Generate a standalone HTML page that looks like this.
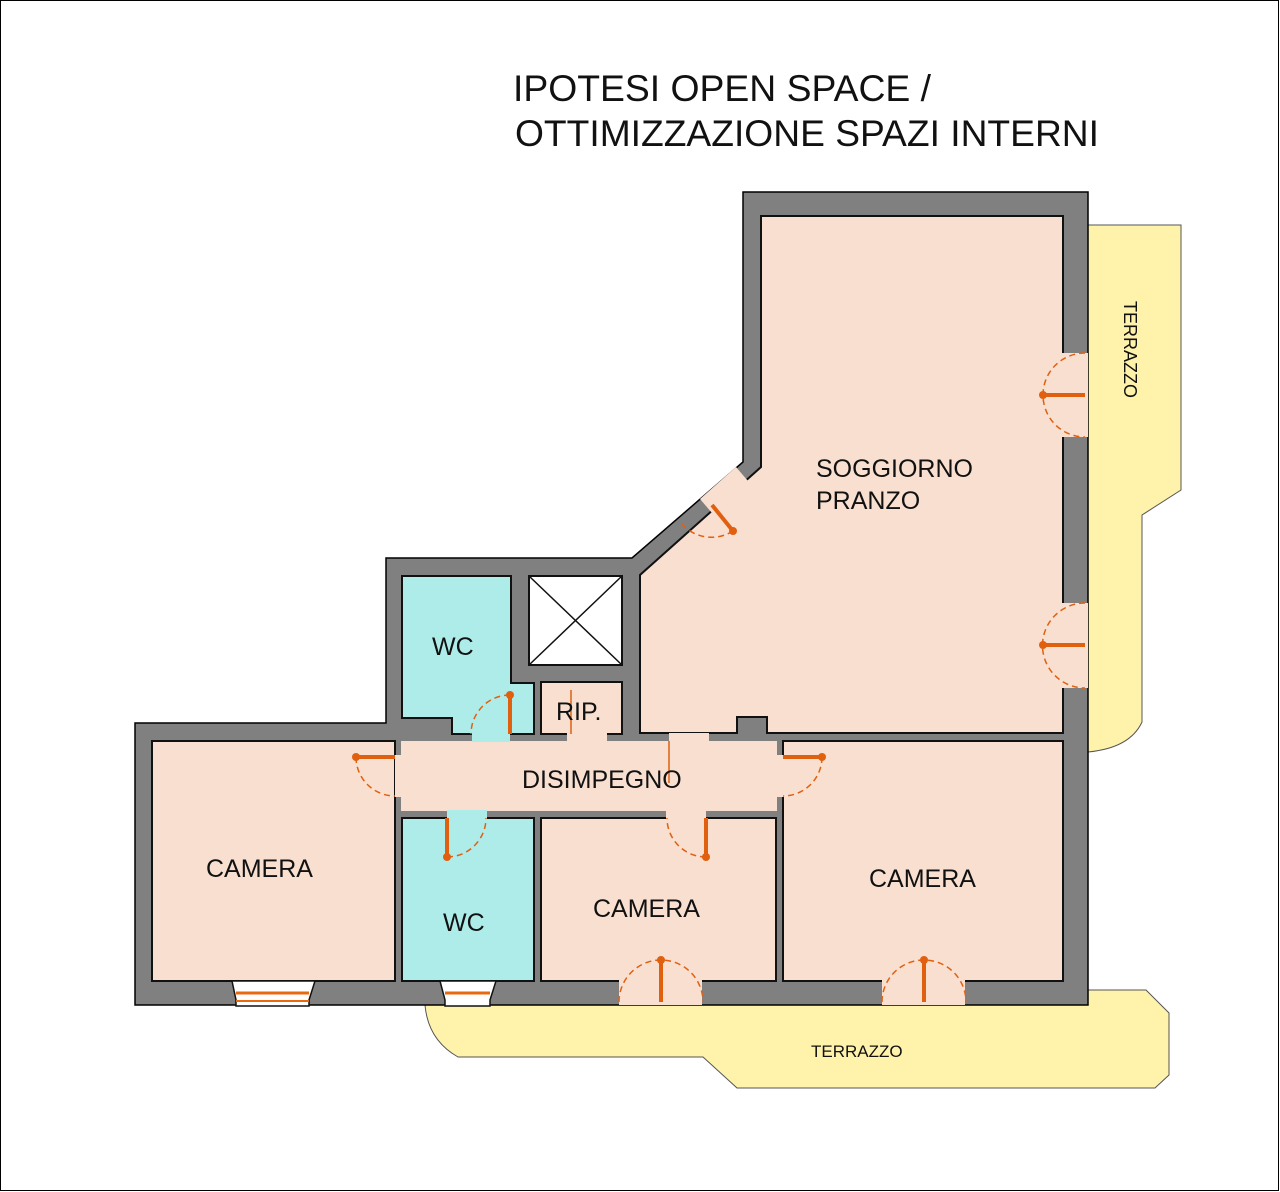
<!DOCTYPE html>
<html><head><meta charset="utf-8"><style>
html,body{margin:0;padding:0;background:#fff}
svg{display:block}
text{font-family:"Liberation Sans",Arial,sans-serif;fill:#111}
</style></head><body>
<svg width="1280" height="1192" viewBox="0 0 1280 1192" xmlns="http://www.w3.org/2000/svg">
<rect x="0.5" y="0.5" width="1278" height="1190" fill="#fff" stroke="#000" stroke-width="1"/>
<text x="513" y="101" font-size="37" textLength="418" lengthAdjust="spacingAndGlyphs">IPOTESI OPEN SPACE /</text>
<text x="515" y="146" font-size="37" textLength="584" lengthAdjust="spacingAndGlyphs">OTTIMIZZAZIONE SPAZI INTERNI</text>

<!-- terraces -->
<path d="M1088,225 L1181,225 L1181,490 L1142,515 L1142,722 Q1130,748 1088,752 Z" fill="#fff2aa" stroke="#555" stroke-width="1"/>
<path d="M425,1005 L1088,1005 L1088,990 L1146,990 L1169,1013 L1169,1075 L1155,1088 L737,1088 L703,1057 L458,1057 Q428,1040 425,1005 Z" fill="#fff2aa" stroke="#555" stroke-width="1"/>

<!-- outer wall -->
<path d="M743,192 L1088,192 L1088,1005 L135,1005 L135,723 L386,723 L386,558 L632,558 L743,462 Z" fill="#808080" stroke="#000" stroke-width="1.5"/>

<!-- rooms -->
<g stroke="#111" stroke-width="2">
<path d="M761,216 L1063,216 L1063,733 L767,733 L767,717 L737,717 L737,733 L640,733 L640,575 L761,467 Z" fill="#f8dfd0"/>
<rect x="783" y="741" width="280" height="240" fill="#f8dfd0"/>
<rect x="152" y="741" width="243" height="240" fill="#f8dfd0"/>
<rect x="541" y="818" width="235" height="163" fill="#f8dfd0"/>
<rect x="402" y="818" width="132" height="163" fill="#aeecea"/>
<path d="M402,576 L511,576 L511,683 L534,683 L534,734 L452,734 L452,718 L402,718 Z" fill="#aeecea"/>
<rect x="529" y="576" width="93" height="89" fill="#fff"/>
<rect x="541" y="682" width="81" height="52" fill="#f8dfd0"/>
</g>
<path d="M529,576 L622,665 M622,576 L529,665" stroke="#111" stroke-width="1.5"/>
<!-- disimpegno (open) -->
<rect x="401" y="741" width="376" height="70" fill="#f8dfd0"/>
<rect x="395" y="755" width="8" height="42" fill="#f8dfd0"/>
<rect x="775" y="755" width="9" height="42" fill="#f8dfd0"/>
<rect x="472" y="733" width="38" height="9" fill="#aeecea"/>
<rect x="567" y="733" width="40" height="9" fill="#f8dfd0"/>
<rect x="669" y="733" width="40" height="9" fill="#f8dfd0"/>
<rect x="447" y="810" width="40" height="9" fill="#aeecea"/>
<rect x="666" y="810" width="40" height="9" fill="#f8dfd0"/>
<!-- openings in outer walls -->
<path d="M700,499 L736,467 L760,495 L724,527 Z" fill="#f8dfd0"/>
<rect x="1062" y="353" width="26" height="84" fill="#f8dfd0"/>
<rect x="1062" y="603" width="26" height="85" fill="#f8dfd0"/>
<rect x="619" y="980" width="83" height="25" fill="#f8dfd0"/>
<rect x="882" y="980" width="83" height="25" fill="#f8dfd0"/>
<!-- windows -->
<path d="M232,981 L315,981 L309,1000 L309,1006 L236,1006 L236,1000 Z" fill="#fff" stroke="#111" stroke-width="1.5"/>
<line x1="236" y1="1001" x2="309" y2="1001" stroke="#e86a10" stroke-width="2"/>
<line x1="236" y1="993" x2="309" y2="993" stroke="#e86a10" stroke-width="3"/>
<path d="M440,981 L496,981 L490,1000 L490,1006 L445,1006 L445,1000 Z" fill="#fff" stroke="#111" stroke-width="1.5"/>
<line x1="445" y1="993" x2="490" y2="993" stroke="#e86a10" stroke-width="3"/>

<!-- doors -->
<g stroke="#e06010" fill="none">
<g stroke-width="4">
<line x1="510" y1="695" x2="510" y2="734"/>
<line x1="447" y1="818" x2="447" y2="857"/>
<line x1="706" y1="818" x2="706" y2="857"/>
<line x1="356" y1="757" x2="395" y2="757"/>
<line x1="783" y1="757" x2="822" y2="757"/>
<line x1="1043" y1="395" x2="1085" y2="395"/>
<line x1="1043" y1="645" x2="1085" y2="645"/>
<line x1="661" y1="960" x2="661" y2="1002"/>
<line x1="924" y1="960" x2="924" y2="1002"/>
<line x1="712" y1="505" x2="733" y2="531"/>
</g>
<g stroke-width="1.5" stroke-dasharray="6,4">
<path d="M510,695 A39,39 0 0 0 471,734"/>
<path d="M447,857 A39,39 0 0 0 486,818"/>
<path d="M706,857 A39,39 0 0 1 667,818"/>
<path d="M356,757 A39,39 0 0 0 395,796"/>
<path d="M822,757 A39,39 0 0 1 783,796"/>
<path d="M1085,353 A42,42 0 0 0 1085,437"/>
<path d="M1085,603 A42,42 0 0 0 1085,688"/>
<path d="M619,1002 A42,42 0 0 1 703,1002"/>
<path d="M882,1002 A42,42 0 0 1 966,1002"/>
<path d="M733,531 A40,40 0 0 1 680,522"/>
</g>
<line x1="669" y1="741" x2="669" y2="783" stroke-width="1.5"/>
<line x1="571" y1="690" x2="571" y2="734" stroke-width="1.5"/>
</g>
<g fill="#e06010">
<circle cx="510" cy="695" r="4"/><circle cx="447" cy="857" r="4"/><circle cx="706" cy="857" r="4"/>
<circle cx="356" cy="757" r="4"/><circle cx="822" cy="757" r="4"/><circle cx="1043" cy="395" r="4"/>
<circle cx="1043" cy="645" r="4"/><circle cx="661" cy="960" r="4"/><circle cx="924" cy="960" r="4"/><circle cx="733" cy="531" r="4"/>
</g>

<!-- labels -->
<text x="816" y="477" font-size="25">SOGGIORNO</text>
<text x="816" y="509" font-size="25">PRANZO</text>
<text x="432" y="655" font-size="25">WC</text>
<text x="556" y="720" font-size="25">RIP.</text>
<text x="522" y="788" font-size="25">DISIMPEGNO</text>
<text x="206" y="877" font-size="25">CAMERA</text>
<text x="443" y="931" font-size="25">WC</text>
<text x="593" y="917" font-size="25">CAMERA</text>
<text x="869" y="887" font-size="25">CAMERA</text>
<text x="811" y="1057" font-size="17">TERRAZZO</text>
<text x="0" y="0" font-size="18" transform="translate(1124,301) rotate(90)">TERRAZZO</text>
</svg>
</body></html>
